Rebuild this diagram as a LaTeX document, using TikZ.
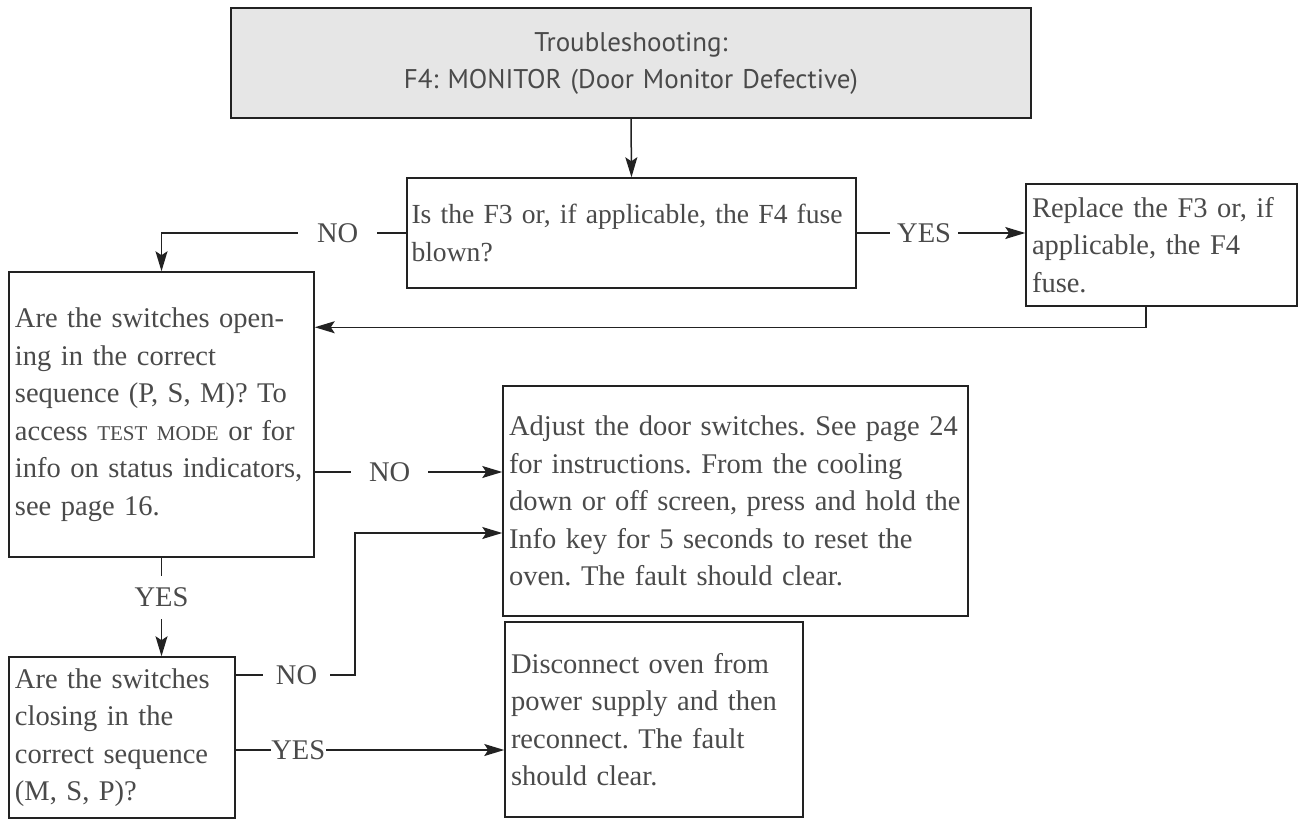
\documentclass[tikz,border=0pt]{standalone}
\usepackage{fontspec}
\setmainfont{Liberation Serif}
\newfontfamily\headfont{PT Sans}
\usepackage{xcolor}
\usepackage{tikz}
\usetikzlibrary{arrows.meta}

\definecolor{txtgray}{HTML}{4A4A4A}
\definecolor{lngray}{HTML}{222222}
\definecolor{hdfill}{HTML}{E6E6E6}
\newcommand{\boxfont}{\fontsize{28.5}{37.5}\selectfont}
\newcommand{\fakesc}[1]{{\fontsize{21}{37.5}\selectfont #1}}
\frenchspacing

\begin{document}
\begin{tikzpicture}[
  x=1pt, y=-1pt,
  every node/.style={text=txtgray},
  box/.style={draw=lngray, line width=1.5pt, inner xsep=6pt, inner ysep=0pt, align=left, font=\boxfont},
  arr/.style={draw=lngray, line width=1.5pt, -{Stealth[length=20pt, width=12pt, inset=4pt]}},
  lbl/.style={fill=white, font=\boxfont, inner ysep=3pt, inner xsep=#1},
  lbl/.default=10pt,
]
\path[use as bounding box, fill=white] (0,0) rectangle (1302,822);

\node[box, fill=hdfill, align=center, font=\headfont\fontsize{27}{37}\selectfont,
  text width=788pt, minimum height=110pt] (head) at (631,63)
  {Troubleshooting:\\F4: MONITOR (Door Monitor Defective)};
\node[box, font=\fontsize{27.6}{37.5}\selectfont, inner xsep=4.5pt, text width=440pt, minimum height=110pt] (q1) at (631.5,233)
  {\mbox{Is the F3 or, if applicable, the F4 fuse}\\blown?};
\node[box, text width=259pt, minimum height=122pt] (rep) at (1161.5,245)
  {Replace the F3 or, if\\applicable, the F4\\fuse.};
\node[box, text width=293pt, minimum height=285pt] (open) at (161.5,414.5)
  {Are the switches open-\\ing in the correct\\sequence (P, S, M)? To\\access \fakesc{TEST MODE} or for\\info on status indicators,\\see page 16.};
\node[box, text width=453pt, minimum height=230pt] (adj) at (735.5,501)
  {Adjust the door switches. See page 24\\for instructions. From the cooling\\down or off screen, press and hold the\\Info key for 5 seconds to reset the\\oven. The fault should clear.};
\node[box, text width=214pt, minimum height=161pt] (close) at (122,737.5)
  {Are the switches\\closing in the\\correct sequence\\(M, S, P)?};
\node[box, text width=286pt, minimum height=195pt] (disc) at (654,719.5)
  {Disconnect oven from\\power supply and then\\reconnect. The fault\\should clear.};

% connectors
\draw[arr] (head.south) -- (q1.north);
\draw[arr] (q1.west) -| node[lbl=19pt, pos=0.14] {NO} (open.north);
\draw[arr] (q1.east) -- node[lbl=7pt, pos=0.4] {YES} (q1.east -| rep.west);
\draw[arr] ([xshift=-15.5pt]rep.south) |- ([yshift=-56pt]open.north east);
\draw[arr] (open.east |- 0,472) -- node[lbl=18pt, pos=0.4] {NO} (adj.west |- 0,472);
\draw[arr] (open.south) -- node[lbl=4pt, inner ysep=12pt, pos=0.4] {YES} (open.south |- close.north);
\draw[arr] (close.east |- 0,675) -- node[lbl=13pt, pos=0.51] {NO} (355,675) |- (adj.west |- 0,533);
\draw[arr] (close.east |- 0,750) -- node[lbl=0.5pt, pos=0.233] {YES} (disc.west |- 0,750);
\end{tikzpicture}
\end{document}
